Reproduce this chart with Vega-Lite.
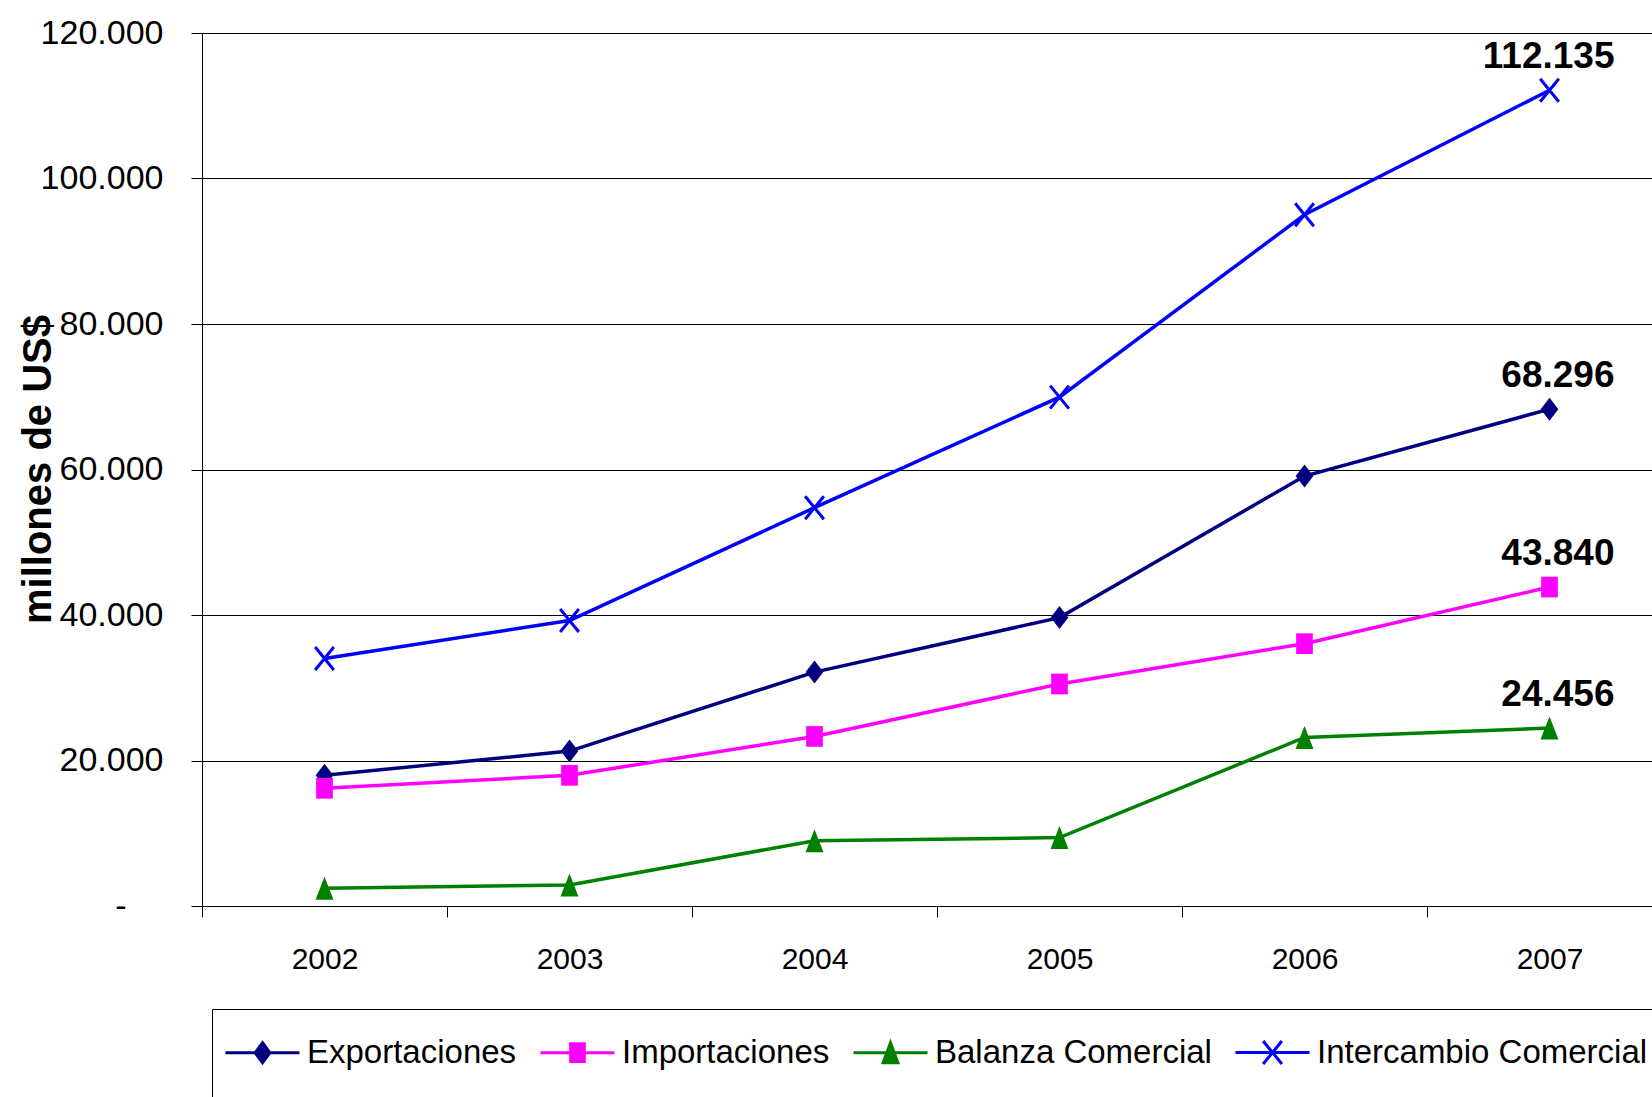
{
  "$schema": "https://vega.github.io/schema/vega-lite/v6.json",
  "autosize": "none",
  "padding": {"left": 202, "top": 33, "right": 0, "bottom": 191},
  "width": 1450,
  "height": 873,
  "background": "white",
  "config": {
    "view": {"stroke": null},
    "locale": {"number": {"decimal": ",", "thousands": ".", "grouping": [3], "currency": ["", ""]}}
  },
  "data": {"values": [
    {"anio": "2002", "serie": "Exportaciones", "valor": 17960},
    {"anio": "2003", "serie": "Exportaciones", "valor": 21290},
    {"anio": "2004", "serie": "Exportaciones", "valor": 32150},
    {"anio": "2005", "serie": "Exportaciones", "valor": 39640},
    {"anio": "2006", "serie": "Exportaciones", "valor": 59100},
    {"anio": "2007", "serie": "Exportaciones", "valor": 68296},
    {"anio": "2002", "serie": "Importaciones", "valor": 16180},
    {"anio": "2003", "serie": "Importaciones", "valor": 17960},
    {"anio": "2004", "serie": "Importaciones", "valor": 23310},
    {"anio": "2005", "serie": "Importaciones", "valor": 30520},
    {"anio": "2006", "serie": "Importaciones", "valor": 36060},
    {"anio": "2007", "serie": "Importaciones", "valor": 43840},
    {"anio": "2002", "serie": "Balanza Comercial", "valor": 2430},
    {"anio": "2003", "serie": "Balanza Comercial", "valor": 2890},
    {"anio": "2004", "serie": "Balanza Comercial", "valor": 8970},
    {"anio": "2005", "serie": "Balanza Comercial", "valor": 9400},
    {"anio": "2006", "serie": "Balanza Comercial", "valor": 23170},
    {"anio": "2007", "serie": "Balanza Comercial", "valor": 24456},
    {"anio": "2002", "serie": "Intercambio Comercial", "valor": 34030},
    {"anio": "2003", "serie": "Intercambio Comercial", "valor": 39240},
    {"anio": "2004", "serie": "Intercambio Comercial", "valor": 54750},
    {"anio": "2005", "serie": "Intercambio Comercial", "valor": 69950},
    {"anio": "2006", "serie": "Intercambio Comercial", "valor": 95020},
    {"anio": "2007", "serie": "Intercambio Comercial", "valor": 112135}
  ]},
  "encoding": {
    "x": {
      "field": "anio", "type": "ordinal",
      "scale": {"range": [0, 1470], "paddingInner": 0, "paddingOuter": 0},
      "axis": {
        "title": null, "labelAngle": 0, "tickBand": "extent",
        "domainColor": "black", "domainWidth": 1,
        "tickColor": "black", "tickSize": 11, "tickWidth": 1,
        "labelFont": "Liberation Sans", "labelFontSize": 30, "labelColor": "black",
        "labelBaseline": "middle", "labelPadding": 42, "grid": false
      }
    },
    "y": {
      "field": "valor", "type": "quantitative",
      "scale": {"domain": [0, 120000], "nice": false},
      "axis": {
        "title": "millones de US$",
        "titleFont": "Liberation Sans", "titleFontSize": 40, "titleFontWeight": "bold", "titleColor": "black",
        "titleAngle": -90, "titleX": -164, "titleY": 436, "titleAlign": "center", "titleBaseline": "middle",
        "values": [0, 20000, 40000, 60000, 80000, 100000, 120000],
        "format": ",d",
        "labelExpr": "datum.value === 0 ? '-' : datum.label",
        "labelFont": "Liberation Sans", "labelFontSize": 34, "labelColor": "black",
        "labelPadding": {"condition": {"test": "datum.value === 0", "value": 65}, "value": 28},
        "domainColor": "black", "tickColor": "black", "tickSize": 11,
        "grid": true, "gridColor": "black", "gridWidth": 1, "gridOpacity": 1
      }
    }
  },
  "layer": [
    {
      "mark": {"type": "line", "strokeWidth": 3.5},
      "encoding": {
        "color": {
          "field": "serie", "type": "nominal",
          "scale": {"domain": ["Exportaciones", "Importaciones", "Balanza Comercial", "Intercambio Comercial"],
                    "range": ["#000080", "#FF00FF", "#008000", "#0000FF"]},
          "legend": {
            "title": "\u00a0", "titleOrient": "bottom", "titleFontSize": 30, "titlePadding": 5,
            "orient": "none", "legendX": 10, "legendY": 976,
            "direction": "horizontal", "columns": 4,
            "symbolSize": 5476, "symbolStrokeWidth": 3, "symbolType": "stroke",
            "labelFont": "Liberation Sans", "labelFontSize": 33, "labelColor": "black",
            "labelOffset": 6, "columnPadding": 17, "padding": 12, "labelLimit": 0,
            "strokeColor": "black", "fillColor": "white",
            "encode": {
              "labels": {"update": {"dy": {"value": -7}}},
              "symbols": {
                "update": {
                  "shape": {"signal": "datum.value === 'Exportaciones' ? 'M-1,-0.19H1M0,-0.46L0.2,-0.19L0,0.08L-0.2,-0.19Z' : datum.value === 'Importaciones' ? 'M-1,-0.19H1M-0.185,-0.43H0.185V0.05H-0.185Z' : datum.value === 'Balanza Comercial' ? 'M-1,-0.19H1M0,-0.46L0.2,0.08H-0.2Z' : 'M-1,-0.19H1M-0.253,-0.5L0.253,0.12M0.253,-0.5L-0.253,0.12'"},
                  "fill": {"signal": "scale('color', datum.value)"},
                  "stroke": {"signal": "scale('color', datum.value)"},
                  "strokeWidth": {"value": 3},
                  "opacity": {"value": 1},
                  "fillOpacity": {"value": 1}
                }
              }
            }
          }
        }
      }
    },
    {
      "mark": {"type": "point", "size": 400, "opacity": 1, "fillOpacity": 1},
      "encoding": {
        "shape": {
          "condition": [
            {"test": "datum.serie === 'Exportaciones'", "value": "M0,-1.15L0.885,0L0,1.15L-0.885,0Z"},
            {"test": "datum.serie === 'Importaciones'", "value": "M-0.835,-1.035H0.835V1.035H-0.835Z"},
            {"test": "datum.serie === 'Balanza Comercial'", "value": "M0,-1.15L0.9,1.15H-0.9Z"}
          ],
          "value": "M-0.935,-1.15L0.935,1.15M0.935,-1.15L-0.935,1.15"
        },
        "fill": {
          "condition": [
            {"test": "datum.serie === 'Exportaciones'", "value": "#000080"},
            {"test": "datum.serie === 'Importaciones'", "value": "#FF00FF"},
            {"test": "datum.serie === 'Balanza Comercial'", "value": "#008000"}
          ],
          "value": "#0000FF"
        },
        "stroke": {
          "condition": [
            {"test": "datum.serie === 'Exportaciones'", "value": "#000080"},
            {"test": "datum.serie === 'Importaciones'", "value": "#FF00FF"},
            {"test": "datum.serie === 'Balanza Comercial'", "value": "#008000"}
          ],
          "value": "#0000FF"
        },
        "strokeWidth": {"condition": {"test": "datum.serie === 'Intercambio Comercial'", "value": 3}, "value": 0}
      }
    },
    {
      "transform": [{"filter": "datum.anio === '2007'"}],
      "mark": {"type": "text", "align": "right", "baseline": "middle", "dx": 65, "dy": -33,
               "font": "Liberation Sans", "fontSize": 37, "fontWeight": "bold", "color": "black"},
      "encoding": {
        "text": {"field": "valor", "type": "quantitative", "format": ",d"}
      }
    }
  ]
}
